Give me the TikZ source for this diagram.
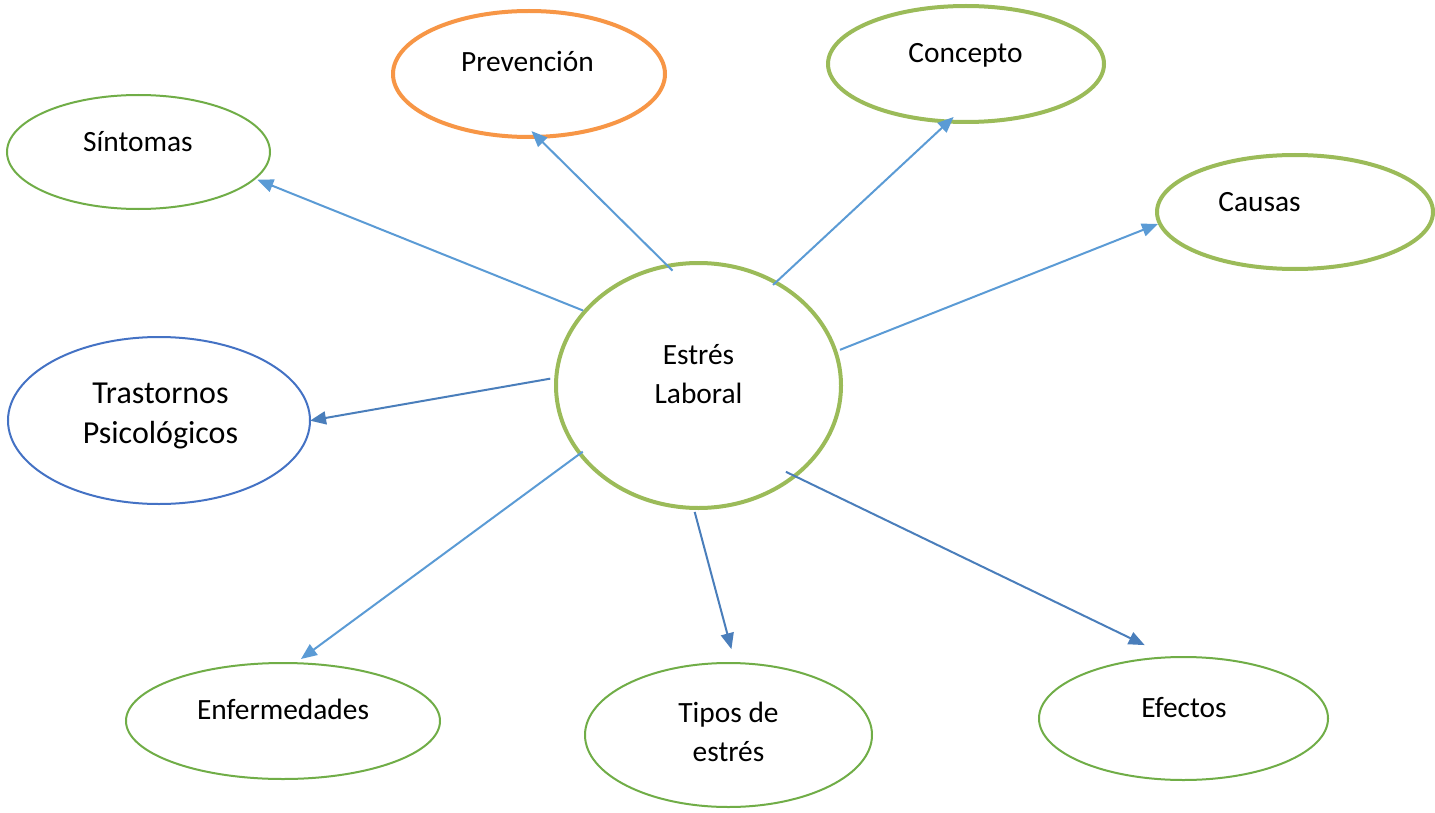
\documentclass[tikz,border=0pt]{standalone}
\usepackage{fontspec}
\setmainfont{Carlito}
\usetikzlibrary{shapes.geometric,arrows.meta}

\definecolor{thingreen}{HTML}{70AD47}
\definecolor{thickgreen}{HTML}{9BBB59}
\definecolor{orangeline}{HTML}{F79646}
\definecolor{blueline}{HTML}{4472C4}
\definecolor{lightarrow}{HTML}{5B9BD5}
\definecolor{darkarrow}{HTML}{4A7EBB}

\tikzset{
  bubble/.style={ellipse, inner sep=0pt, fill=white},
  thinbubble/.style={bubble, draw=thingreen, line width=1pt},
  thickbubble/.style={bubble, draw=thickgreen, line width=2pt},
  txt/.style={font=\fontsize{14.7}{19.5}\selectfont, inner sep=0pt, align=center, anchor=base},
  bigtxt/.style={font=\fontsize{16}{20}\selectfont, inner sep=0pt, align=center, anchor=base},
  link/.style={line width=1pt, -{Triangle[length=8pt,width=6.5pt]}},
  lightlink/.style={link, draw=lightarrow, fill=lightarrow},
  darklink/.style={link, draw=darkarrow, fill=darkarrow},
}

\begin{document}
\begin{tikzpicture}[x=0.5pt,y=-0.5pt]
\useasboundingbox (0,0) rectangle (1435,813);

% central topic
\node[thickbubble, minimum width=142.5pt, minimum height=122.5pt] (estres) at (698.5,385.5) {};

% surrounding topics
\node[thinbubble, minimum width=131.5pt, minimum height=57pt] (sintomas) at (138.5,152) {};
\node[bubble, draw=orangeline, line width=2pt, minimum width=136pt, minimum height=63pt] (prevencion) at (529,74) {};
\node[thickbubble, minimum width=138pt, minimum height=58pt] (concepto) at (966,64) {};
\node[thickbubble, minimum width=138pt, minimum height=57pt] (causas) at (1295,212) {};
\node[bubble, draw=blueline, line width=1pt, minimum width=151pt, minimum height=83.5pt] (trastornos) at (159,420.5) {};
\node[thinbubble, minimum width=157pt, minimum height=58pt] (enfermedades) at (283,721) {};
\node[thinbubble, minimum width=143.5pt, minimum height=72pt] (tipos) at (728.5,735) {};
\node[thinbubble, minimum width=144.5pt, minimum height=61.5pt] (efectos) at (1183.5,718.5) {};

% labels (multi-line labels sit on the baseline of their last line)
\node[txt] (t-estres) at (698.5,403) {Estrés\\Laboral};
\node[txt] (t-sintomas) at (138,151) {Síntomas};
\node[txt] (t-prevencion) at (527.5,72) {Prevención};
\node[txt] (t-concepto) at (965.5,63) {Concepto};
\node[txt] (t-causas) at (1259.5,211) {Causas};
\node[bigtxt] (t-trastornos) at (160.5,443) {Trastornos\\Psicológicos};
\node[txt] (t-enfermedades) at (283,719) {Enfermedades};
\node[txt] (t-tipos) at (728.5,761) {Tipos de\\estrés};
\node[txt] (t-efectos) at (1184,717) {Efectos};

% connectors
\draw[lightlink, shorten >=0.9pt] (estres.147.8) -- (sintomas.-13.2);
\draw[lightlink, shorten <=-4.55pt, shorten >=-5.5pt] (estres.105.6) -- (prevencion.279.5);
\draw[lightlink, shorten <=-2.85pt, shorten >=-4.75pt] (estres.53.0) -- (concepto.252.3);
\draw[lightlink, shorten <=1.45pt] (estres.14.0) -- (causas.185.9);
\draw[darklink, shorten <=2.05pt, shorten >=-0.5pt] (estres.177.9) -- (trastornos.-0.95);
\draw[lightlink, shorten <=-2.65pt, shorten >=2.7pt] (estres.210.2) -- (enfermedades.77);
\draw[darklink, shorten <=1.05pt, shorten >=6.7pt] (estres.268.2) -- (tipos.85.4);
\draw[darklink, shorten <=-5.9pt, shorten >=12.95pt] (estres.317.5) -- (efectos.104.6);
\end{tikzpicture}
\end{document}
